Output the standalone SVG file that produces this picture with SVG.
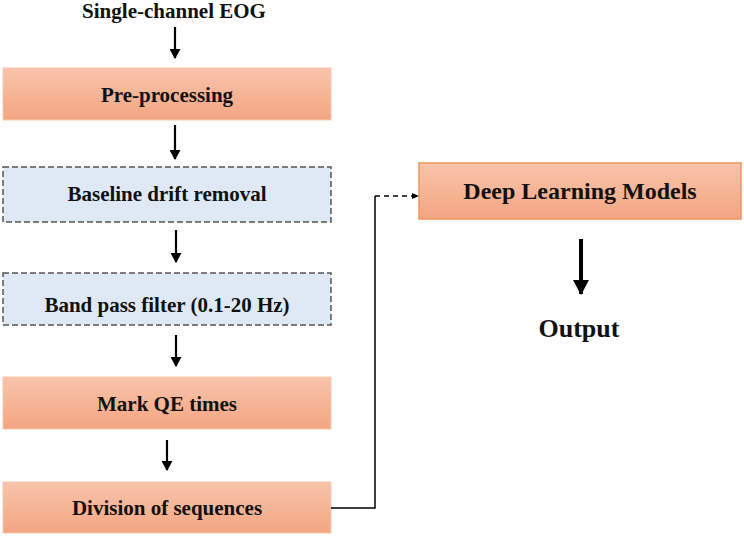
<svg xmlns="http://www.w3.org/2000/svg" width="744" height="537" viewBox="0 0 744 537">
<defs>
<linearGradient id="og" x1="0" y1="0" x2="0" y2="1">
<stop offset="0" stop-color="#f8c4ab"/>
<stop offset="1" stop-color="#f3a582"/>
</linearGradient>
<marker id="ah" markerWidth="11" markerHeight="11" refX="9" refY="5.5" orient="auto" markerUnits="userSpaceOnUse">
<path d="M0,0 L10,5.5 L0,11 Z" fill="#000"/>
</marker>
<marker id="ahs" markerWidth="8" markerHeight="8" refX="6" refY="4" orient="auto" markerUnits="userSpaceOnUse">
<path d="M0,1 L7,4 L0,7 Z" fill="#000"/>
</marker>
<marker id="ahb" markerWidth="16" markerHeight="16" refX="14" refY="8" orient="auto" markerUnits="userSpaceOnUse">
<path d="M0,0 L15,8 L0,16 Z" fill="#000"/>
</marker>
</defs>
<style>
.t{font-family:"Liberation Serif","Times New Roman",serif;font-weight:bold;fill:#111;text-anchor:middle}
.o{fill:url(#og);stroke:#f6c8b0;stroke-width:1}
.b{fill:#dfe9f5;stroke:#555;stroke-width:1.5;stroke-dasharray:6 3}
.a{stroke:#000;stroke-width:2.2;fill:none;marker-end:url(#ah)}
</style>
<g id="input"><text class="t" x="174" y="18" font-size="21">Single-channel EOG</text></g>
<g id="preprocessing"><rect class="o" x="3" y="68" width="328" height="52"/><text class="t" x="167" y="102" font-size="21">Pre-processing</text></g>
<g id="baseline"><rect class="b" x="3" y="167" width="328" height="55"/><text class="t" x="167" y="201" font-size="21">Baseline drift removal</text></g>
<g id="bandpass"><rect class="b" x="3" y="273" width="328" height="52"/><text class="t" x="167" y="312" font-size="21">Band pass filter (0.1-20 Hz)</text></g>
<g id="markqe"><rect class="o" x="3" y="377" width="328" height="52"/><text class="t" x="167" y="411" font-size="21">Mark QE times</text></g>
<g id="division"><rect class="o" x="3" y="482" width="328" height="51"/><text class="t" x="167" y="515" font-size="21">Division of sequences</text></g>
<g id="dlm"><rect x="419" y="163" width="322" height="56" fill="url(#og)" stroke="#f0965c" stroke-width="1.5"/><text class="t" x="580" y="199" font-size="24">Deep Learning Models</text></g>
<g id="output"><text class="t" x="579" y="337" font-size="26">Output</text></g>
<g id="connectors">
<line class="a" x1="175" y1="27" x2="175" y2="58"/>
<line class="a" x1="175" y1="125" x2="175" y2="159"/>
<line class="a" x1="176" y1="230" x2="176" y2="262"/>
<line class="a" x1="176" y1="335" x2="176" y2="366"/>
<line class="a" x1="167" y1="440" x2="167" y2="470"/>
<polyline points="331,508 375,508 375,196" fill="none" stroke="#000" stroke-width="1.5"/>
<line x1="375" y1="196" x2="418" y2="196" stroke="#000" stroke-width="1.5" stroke-dasharray="5 4" marker-end="url(#ahs)"/>
<line x1="581" y1="239" x2="581" y2="294" stroke="#000" stroke-width="4" marker-end="url(#ahb)"/>
</g>
</svg>
